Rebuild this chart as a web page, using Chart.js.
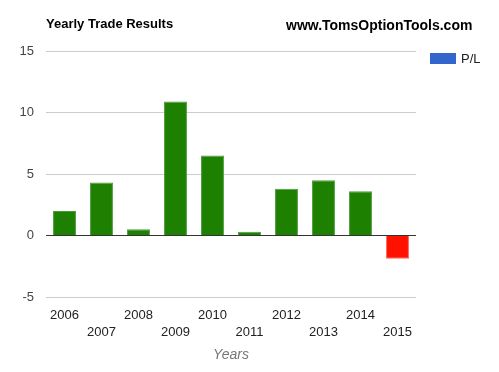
<!DOCTYPE html>
<html lang="en">
<head>
    <meta charset="UTF-8">
    <title>Yearly Trade Results</title>
    <script src="https://cdn.jsdelivr.net/npm/chart.js"></script>
    <style>
        body { margin: 0; background: #fff; font-family: Arial, "Liberation Sans", sans-serif; }
        .wrap { position: relative; width: 499px; height: 372px; }
        .title { position: absolute; left: 46px; top: 16px; font-size: 13px; font-weight: bold; color: #000; }
        .site { position: absolute; left: 286px; top: 17px; font-size: 14px; font-weight: bold; color: #000; }
        .legend { position: absolute; left: 430px; top: 50px; font-size: 13px; color: #222; }
        .legend .box { display: inline-block; width: 26px; height: 11px; background: #3366cc; vertical-align: middle; margin-right: 5px; }
        .legend span { vertical-align: middle; }
    </style>
</head>
<body>
    <div class="wrap">
        <canvas id="plChart" width="499" height="372"></canvas>
        <div class="title">Yearly Trade Results</div>
        <div class="site">www.TomsOptionTools.com</div>
        <div class="legend"><div class="box"></div><span>P/L</span></div>
    </div>

    <script>
        // data
        const years = ['2006', '2007', '2008', '2009', '2010', '2011', '2012', '2013', '2014', '2015'];
        const profitLoss = [2.0, 4.3, 0.5, 10.9, 6.5, 0.3, 3.8, 4.5, 3.6, -1.9];
        const yTicks = [-5, 0, 5, 10, 15];

        const green = '#1e8000';
        const red = '#ff1100';

        new Chart(document.getElementById('plChart').getContext('2d'), {
            type: 'bar',
            data: {
                // odd years go on a second label row, like the original
                labels: years.map((y, i) => i % 2 ? ['', y] : [y]),
                datasets: [{
                    label: 'P/L',
                    data: profitLoss,
                    backgroundColor: profitLoss.map(v => v < 0 ? red : green),
                    borderColor: profitLoss.map(v => v < 0 ? '#ff6655' : '#4f9e3f'),
                    borderWidth: 1,
                    barPercentage: 0.62,
                    categoryPercentage: 1
                }]
            },
            options: {
                responsive: false,
                animation: false,
                layout: { padding: { top: 51, right: 83, left: 0, bottom: 0 } },
                plugins: {
                    legend: { display: false },
                    tooltip: { enabled: false }
                },
                scales: {
                    x: {
                        grid: { display: false },
                        border: { display: false },
                        ticks: {
                            color: '#222',
                            font: { family: 'Arial', size: 13, lineHeight: 1.3 },
                            maxRotation: 0,
                            autoSkip: false,
                            padding: 2
                        },
                        title: {
                            display: true,
                            text: 'Years',
                            color: '#777',
                            font: { family: 'Arial', size: 14, style: 'italic' },
                            padding: { top: 4, bottom: 8 }
                        },
                        afterFit: s => { s.height = 75; }
                    },
                    y: {
                        min: -5,
                        max: 15,
                        afterBuildTicks: s => { s.ticks = yTicks.map(v => ({ value: v })); },
                        grid: {
                            drawTicks: false,
                            color: c => c.tick && c.tick.value === 0 ? '#333' : '#cccccc',
                            lineWidth: 1
                        },
                        border: { display: false },
                        ticks: {
                            color: '#444',
                            font: { family: 'Arial', size: 13 },
                            padding: 12
                        },
                        afterFit: s => { s.width = 46; }
                    }
                }
            }
        });
    </script>
</body>
</html>
